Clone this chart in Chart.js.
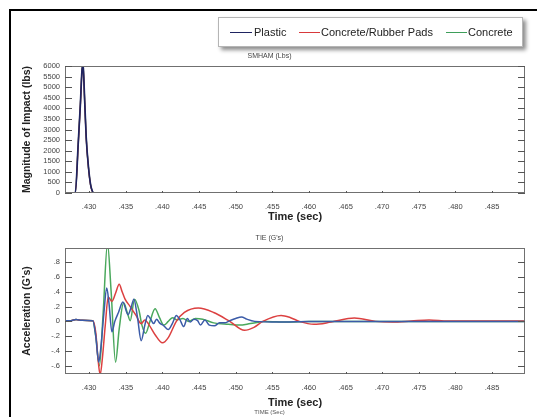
<!DOCTYPE html>
<html>
<head>
<meta charset="utf-8">
<script src="https://cdn.jsdelivr.net/npm/chart.js@4.4.0/dist/chart.umd.min.js"></script>
<style>
  body { margin: 0; background: #fff; }
  #wrap { position: relative; width: 539px; height: 417px; overflow: hidden; background: #fff;
          font-family: "Liberation Sans", Arial, sans-serif; }
  #frame { position: absolute; left: 9px; top: 9px; width: 526px; height: 420px;
           border-top: 2px solid #000; border-left: 2px solid #000; }
  canvas { position: absolute; left: 0; }
  #topChart { top: 0; }
  #botChart { top: 230px; }
  #legend { position: absolute; left: 218px; top: 17px; width: 303px; height: 28px;
            border: 1px solid #b5b5b5; background: #fff;
            box-shadow: 3px 3px 4px rgba(0,0,0,0.45); }
  #legend .ln { position: absolute; top: 14px; height: 0; border-top: 1.5px solid; }
  #legend .tx { position: absolute; top: 7px; font-size: 11px; line-height: 14px; color: #222; }
</style>
</head>
<body>
<div id="wrap">
  <div id="frame"></div>
  <canvas id="topChart" width="539" height="230"></canvas>
  <canvas id="botChart" width="539" height="187"></canvas>
  <div id="legend">
    <div class="ln" style="left:11px;width:22px;border-color:#1f2461"></div>
    <div class="tx" style="left:35px">Plastic</div>
    <div class="ln" style="left:80px;width:21px;border-color:#d8393b"></div>
    <div class="tx" style="left:102px">Concrete/Rubber Pads</div>
    <div class="ln" style="left:227px;width:21px;border-color:#3e9e5a"></div>
    <div class="tx" style="left:249px">Concrete</div>
  </div>
</div>
<script>
// --- data ---
const xMin = 0.4267, xMax = 0.4895;
const timeTicks = [0.430, 0.435, 0.440, 0.445, 0.450, 0.455, 0.460, 0.465, 0.470, 0.475, 0.480, 0.485];
const impactTicks = [0, 500, 1000, 1500, 2000, 2500, 3000, 3500, 4000, 4500, 5000, 5500, 6000];
const accelTicks = [-0.6, -0.4, -0.2, 0, 0.2, 0.4, 0.6, 0.8];

// SMHAM (Lbs)
const impactTime     = [0.4267, 0.4280, 0.4281, 0.4285, 0.4288, 0.4290, 0.4291, 0.4292, 0.4294, 0.4296, 0.4299, 0.4302, 0.4304, 0.4306, 0.4310, 0.4895];
const impactPlastic  = [0, 0, 0, 2300, 4200, 5700, 6050, 5900, 4250, 2600, 1240, 380, 120, 0, 0, 0];
const impactRubber   = [0, 0, 0, 2250, 4150, 5650, 6000, 5850, 4200, 2550, 1200, 360, 110, 0, 0, 0];
const impactConcrete = [0, 0, 0, 2280, 4180, 5680, 6020, 5880, 4220, 2580, 1220, 370, 115, 0, 0, 0];

// TIE (G's)
const plasticTime = [0.4267, 0.4275, 0.4282, 0.4290, 0.4305, 0.4309, 0.4313, 0.4316, 0.4320, 0.4324, 0.4327, 0.4331, 0.4335, 0.4340, 0.4346, 0.4353, 0.4357, 0.4361, 0.4366, 0.4371, 0.4376, 0.4380, 0.4384, 0.4388, 0.4392, 0.4396, 0.4402, 0.4408, 0.4414, 0.4419, 0.4424, 0.4429, 0.4434, 0.4438, 0.4443, 0.4448, 0.4452, 0.4458, 0.4464, 0.4471, 0.4478, 0.4485, 0.4492, 0.4500, 0.4508, 0.4515, 0.4526, 0.4560, 0.4600, 0.4895];
const plasticAccel = [0.01, 0.01, 0.025, 0.015, 0.01, -0.2, -0.55, -0.35, 0.1, 0.45, 0.25, -0.14, 0.0, 0.12, 0.26, 0.09, 0.18, 0.30, 0.05, -0.26, -0.05, 0.08, 0.03, -0.03, 0.03, -0.02, -0.06, -0.11, -0.02, 0.08, 0.02, -0.07, 0.04, -0.01, 0.03, 0.01, -0.05, 0.02, -0.05, -0.06, -0.02, -0.02, 0.01, 0.04, 0.06, 0.03, 0.0, -0.01, 0.0, 0.0];

const rubberTime = [0.4267, 0.4275, 0.4282, 0.4290, 0.4305, 0.4309, 0.4312, 0.4315, 0.4318, 0.4322, 0.4326, 0.4331, 0.4336, 0.4341, 0.4345, 0.4349, 0.4356, 0.4364, 0.4371, 0.4376, 0.4382, 0.4390, 0.4400, 0.4408, 0.4419, 0.4430, 0.4449, 0.4470, 0.4492, 0.4512, 0.4525, 0.4537, 0.4562, 0.4575, 0.4587, 0.4607, 0.4630, 0.4662, 0.4691, 0.4714, 0.4740, 0.4764, 0.4790, 0.4895];
const rubberAccel = [0.01, 0.01, 0.025, 0.015, 0.01, -0.15, -0.5, -0.72, -0.5, -0.05, 0.33, 0.27, 0.38, 0.50, 0.40, 0.30, 0.20, 0.08, -0.03, 0.02, -0.05, -0.18, -0.29, -0.22, 0.0, 0.12, 0.18, 0.12, 0.0, -0.12, -0.08, 0.0, 0.08, 0.05, 0.0, -0.04, -0.01, 0.045, 0.0, -0.01, 0.005, 0.02, 0.005, 0.005];

const concreteTime = [0.4267, 0.4275, 0.4282, 0.4290, 0.4305, 0.4309, 0.4314, 0.4319, 0.4325, 0.4330, 0.4336, 0.4341, 0.4347, 0.4352, 0.4356, 0.4362, 0.4368, 0.4372, 0.4377, 0.4383, 0.4390, 0.4396, 0.4402, 0.4408, 0.4414, 0.4420, 0.4428, 0.4436, 0.4445, 0.4455, 0.4470, 0.4490, 0.4505, 0.4520, 0.4540, 0.4570, 0.4600, 0.4895];
const concreteAccel = [0.01, 0.01, 0.025, 0.015, 0.01, -0.2, -0.6, 0.1, 1.05, 0.4, -0.55, -0.1, 0.25, 0.12, 0.01, 0.30, 0.15, -0.05, -0.16, 0.0, 0.17, 0.05, -0.05, 0.0, 0.05, 0.02, 0.04, 0.0, 0.04, 0.03, -0.02, -0.04, -0.05, -0.03, 0.0, -0.01, 0.0, 0.0];

// --- helpers ---
const FONT = '"Liberation Sans", Arial, sans-serif';
const pts = (xs, ys) => xs.map((x, i) => ({ x: x, y: ys[i] }));
const fmtTime = v => v.toFixed(3).replace(/^0/, '');
const fmtAccel = v => Math.abs(v) < 1e-9 ? '0' : v.toFixed(1).replace(/^(-?)0/, '$1');

function line(label, data, color, width) {
  return { label, data, borderColor: color, borderWidth: width, pointRadius: 0,
           cubicInterpolationMode: 'monotone', fill: false, clip: 0 };
}

// inner tick marks + plot frame
const framePlugin = {
  id: 'frame',
  afterDraw(chart) {
    const { ctx, chartArea: a, scales } = chart;
    ctx.save();
    ctx.strokeStyle = '#707070';
    ctx.lineWidth = 1;
    ctx.strokeRect(a.left + 0.5, a.top + 0.5, a.right - a.left - 1, a.bottom - a.top - 1);
    ctx.strokeStyle = '#555';
    ctx.beginPath();
    scales.y.ticks.forEach(t => {
      const y = Math.round(scales.y.getPixelForValue(t.value)) + 0.5;
      ctx.moveTo(a.left, y); ctx.lineTo(a.left + 7, y);
      ctx.moveTo(a.right, y); ctx.lineTo(a.right - 7, y);
    });
    scales.x.ticks.forEach(t => {
      const x = Math.round(scales.x.getPixelForValue(t.value)) + 0.5;
      ctx.moveTo(x, a.bottom); ctx.lineTo(x, a.bottom - 2);
    });
    ctx.stroke();
    ctx.restore();
  }
};

function xScale(tickPad, titleBottom, height) {
  return {
    type: 'linear', min: xMin, max: xMax,
    afterBuildTicks: s => { s.ticks = timeTicks.map(v => ({ value: v })); },
    ticks: { callback: fmtTime, font: { family: FONT, size: 7.5 }, color: '#444', padding: tickPad,
             maxRotation: 0, autoSkip: false },
    grid: { display: false, drawTicks: false }, border: { display: false },
    title: { display: true, text: 'Time (sec)', color: '#222',
             font: { family: FONT, size: 11, weight: 'bold', lineHeight: 1 },
             padding: { top: 0, bottom: titleBottom } },
    afterFit: s => { s.height = height; }
  };
}

function yScale(min, max, ticks, fmt, title) {
  return {
    min, max,
    afterBuildTicks: s => { s.ticks = ticks.map(v => ({ value: v })); },
    ticks: { callback: fmt, font: { family: FONT, size: 7.5 }, color: '#444', padding: 5, autoSkip: false },
    grid: { display: false, drawTicks: false }, border: { display: false },
    title: { display: true, text: title, color: '#222',
             font: { family: FONT, size: 10.5, weight: 'bold', lineHeight: 1 },
             padding: { top: 22, bottom: 0 } },
    afterFit: s => { s.width = 65; }
  };
}

const rightPad = {
  position: 'right', display: true,
  ticks: { display: false }, grid: { display: false, drawTicks: false }, border: { display: false },
  afterFit: s => { s.width = 14; }
};

new Chart(document.getElementById('topChart'), {
  type: 'line',
  data: {
    datasets: [
      line('Plastic', pts(impactTime, impactPlastic), '#1f2461', 1.7),
      line('Concrete/Rubber Pads', pts(impactTime, impactRubber), '#d8393b', 1.3),
      line('Concrete', pts(impactTime, impactConcrete), '#3e9e5a', 1.3)
    ]
  },
  options: {
    responsive: false, animation: false,
    layout: { padding: 0 },
    plugins: {
      legend: { display: false }, tooltip: { enabled: false },
      title: { display: true, text: 'SMHAM (Lbs)', color: '#444',
               font: { family: FONT, size: 7, weight: 'normal' }, padding: { top: 52, bottom: 5.6 } }
    },
    scales: {
      x: xScale(9, 7.5, 37),
      y: yScale(0, 6000, impactTicks, v => String(v), 'Magnitude of Impact (lbs)'),
      yr: rightPad
    }
  },
  plugins: [framePlugin]
});

new Chart(document.getElementById('botChart'), {
  type: 'line',
  data: {
    datasets: [
      line('Plastic', pts(plasticTime, plasticAccel), '#3b5ba8', 1.5),
      line('Concrete/Rubber Pads', pts(rubberTime, rubberAccel), '#dc4040', 1.5),
      line('Concrete', pts(concreteTime, concreteAccel), '#4aa85c', 1.5)
    ]
  },
  options: {
    responsive: false, animation: false,
    layout: { padding: 0 },
    plugins: {
      legend: { display: false }, tooltip: { enabled: false },
      title: { display: true, text: "TIE (G's)", color: '#444',
               font: { family: FONT, size: 7, weight: 'normal' }, padding: { top: 3.8, bottom: 5.8 } },
      subtitle: { display: true, position: 'bottom', text: 'TIME (Sec)', color: '#555',
                  font: { family: FONT, size: 6, lineHeight: 1 }, padding: { top: 0, bottom: 2 } }
    },
    scales: {
      x: xScale(9, 0.5, 35),
      y: yScale(-0.71, 0.99, accelTicks, fmtAccel, "Acceleration (G's)"),
      yr: rightPad
    }
  },
  plugins: [framePlugin]
});
</script>
</body>
</html>
